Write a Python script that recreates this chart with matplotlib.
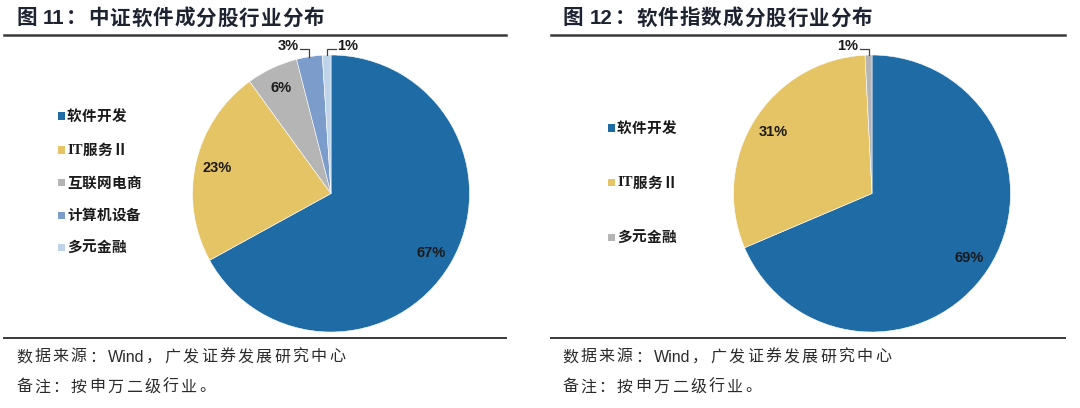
import numpy as np
import matplotlib
matplotlib.use("Agg")
import matplotlib.pyplot as plt
from matplotlib.lines import Line2D
from matplotlib.patches import Rectangle

# ---------------- data ----------------
left_title = "图 11：中证软件成分股行业分布"
left_cats = ["软件开发", "IT服务Ⅱ", "互联网电商", "计算机设备", "多元金融"]
left_vals = [67, 23, 6, 3, 1]
left_colors = ["#1F6BA5", "#E5C465", "#B5B5B5", "#7C9DCB", "#BFD4EB"]

right_title = "图 12：软件指数成分股行业分布"
right_cats = ["软件开发", "IT服务Ⅱ", "多元金融"]
right_vals = [68.6, 30.6, 0.8]
right_colors = ["#1F6BA5", "#E5C465", "#B5B5B5"]

source_text = "数据来源：Wind，广发证券发展研究中心"
note_text = "备注：按申万二级行业。"

# ---------------- layout helpers ----------------
W, H = 1080, 408
fig = plt.figure(figsize=(W / 100, H / 100), dpi=100)
fig.patch.set_facecolor("white")
renderer = fig.canvas.get_renderer()

CJK = ["Noto Sans CJK SC", "DejaVu Sans"]
LAT = ["Liberation Sans", "Noto Sans CJK SC", "DejaVu Sans"]
SER = ["Liberation Serif", "Noto Sans CJK SC", "DejaVu Sans"]


def fx(x):
    return x / W


def fy(y):
    return 1 - y / H


def hline(x0, x1, y, lw, color="#3a3a3a"):
    fig.add_artist(Line2D([fx(x0), fx(x1)], [fy(y), fy(y)], lw=lw, color=color,
                          transform=fig.transFigure))


def is_cjk(ch):
    return ord(ch) >= 0x2000


def spaced_text(x, y, s, size, pitch, weight="normal", color="#333333",
                latfam=LAT, space=5, latgap=2):
    """Draw text with fixed advance for CJK characters (letter spaced)."""
    i = 0
    while i < len(s):
        ch = s[i]
        if ch == " ":
            x += space
            i += 1
            continue
        if is_cjk(ch):
            fig.text(fx(x), fy(y), ch, fontsize=size, fontweight=weight,
                     family=CJK, color=color, va="center", ha="left")
            x += pitch
            i += 1
        else:
            j = i
            while j < len(s) and not is_cjk(s[j]) and s[j] != " ":
                j += 1
            t = fig.text(fx(x), fy(y), s[i:j], fontsize=size, fontweight=weight,
                         family=latfam, color=color, va="center", ha="left")
            x += t.get_window_extent(renderer).width + latgap
            i = j


def panel(x0, x1, tx, title, fx0, cats, vals, colors, cx, cy, R, leg_x, leg_ys, outer):
    # title + rules
    spaced_text(tx, 18, title, 14.8, 21.6, weight="bold", color="#1d2330",
                space=5, latgap=2)
    hline(x0, x1, 35, 1.8)
    hline(x0, x1, 338, 1.4)
    spaced_text(fx0, 357, source_text, 11.5, 18.3, color="#2b2b2b", latgap=2)
    spaced_text(fx0, 387, note_text, 11.5, 18.3, color="#2b2b2b")

    # pie
    ax = fig.add_axes([fx(cx - R), fy(cy + R), 2 * R / W, 2 * R / H])
    wedges, _ = ax.pie(vals, colors=colors, startangle=90, counterclock=False,
                       radius=1.0, wedgeprops=dict(edgecolor="white", linewidth=0.4))
    ax.set_xlim(-1, 1)
    ax.set_ylim(-1, 1)
    ax.set_aspect("equal")
    ax.axis("off")

    for i, (w, v) in enumerate(zip(wedges, vals)):
        mid = np.deg2rad((w.theta1 + w.theta2) / 2)
        lab = "%.0f%%" % v
        if i in outer:
            side = outer[i]
            ax_x, ax_y = np.cos(mid), np.sin(mid)
            ly = 1.045
            hx = ax_x + side * 0.065
            ax.plot([ax_x, ax_x, hx], [ax_y, ly, ly], color="#404040", lw=0.9,
                    clip_on=False, solid_joinstyle="miter")
            ax.text(hx + side * 0.012, ly + 0.02, lab, fontsize=10.5, fontweight="bold",
                    family=LAT, color="#1a1a1a", ha="left" if side > 0 else "right",
                    va="center", clip_on=False)
        else:
            r = 0.84
            ax.text(r * np.cos(mid), r * np.sin(mid), lab, fontsize=10.5,
                    fontweight="bold", family=LAT, color="#1a1a1a",
                    ha="center", va="center")

    # legend
    for c, col, y in zip(cats, colors, leg_ys):
        fig.add_artist(Rectangle((fx(leg_x), fy(y + 3.5)), 7 / W, 7 / H,
                                 facecolor=col, edgecolor="none",
                                 transform=fig.transFigure))
        spaced_text(leg_x + 9, y, c, 10.5, 14.8, weight="bold", color="#1a1a1a",
                    latfam=SER, latgap=0)


panel(4, 506, 16, left_title, 16, left_cats, left_vals, left_colors,
      331, 193.5, 138.5, 58, [116, 150, 183, 215, 247], {3: -1, 4: 1})
panel(551, 1065, 563, right_title, 562, right_cats, right_vals, right_colors,
      872, 193.5, 138.5, 608, [128, 183, 237], {2: -1})

fig.savefig("out.png", dpi=100, facecolor="white")
